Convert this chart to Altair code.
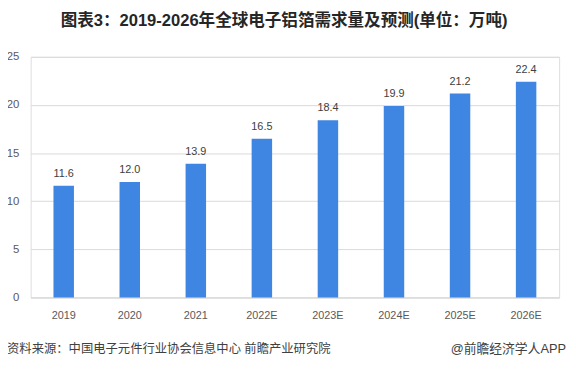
import altair as alt
import pandas as pd

years = ["2019", "2020", "2021", "2022E", "2023E", "2024E", "2025E", "2026E"]
values = [11.6, 12.0, 13.9, 16.5, 18.4, 19.9, 21.2, 22.4]
y_ticks = [0, 5, 10, 15, 20, 25]
title_text = "图表3：2019-2026年全球电子铝箔需求量及预测(单位：万吨)"
source_text = "资料来源：中国电子元件行业协会信息中心 前瞻产业研究院"
brand_text = "@前瞻经济学人APP"

df = pd.DataFrame({"year": years, "value": values})
df["label"] = [f"{v:.1f}" for v in values]

FONT = "Liberation Sans, Noto Sans CJK SC, sans-serif"
W, H = 536, 244

x = alt.X("year:N", sort=years, title=None,
          scale=alt.Scale(paddingInner=0.69, paddingOuter=0.345),
          axis=alt.Axis(labelAngle=0, labelColor="#595959", labelFontSize=11,
                        labelFont=FONT, labelPadding=12, ticks=False,
                        domainColor="#d9d9d9", grid=False))
y = alt.Y("value:Q", title=None,
          scale=alt.Scale(domain=[0, 25], nice=False),
          axis=alt.Axis(values=y_ticks, labelColor="#595959", labelFontSize=11.5,
                        labelFont=FONT, labelPadding=12, ticks=False, domain=False,
                        gridColor="#d9d9d9"))

bars = alt.Chart(df).mark_bar(color="#3f86e2").encode(x=x, y=y)
labels = alt.Chart(df).mark_text(dy=-12, fontSize=11, color="#404040", font=FONT).encode(
    x=alt.X("year:N", sort=years), y="value:Q", text="label:N")

src = alt.Chart(pd.DataFrame({"t": [source_text]})).mark_text(
    align="left", baseline="middle", fontSize=12.5, color="#404040", font=FONT
).encode(x=alt.value(-24), y=alt.value(H + 52), text="t:N")
brand = alt.Chart(pd.DataFrame({"t": [brand_text]})).mark_text(
    align="right", baseline="middle", fontSize=13, color="#404040", font=FONT
).encode(x=alt.value(W + 7), y=alt.value(H + 52), text="t:N")

chart = alt.layer(bars, labels, src, brand).properties(
    width=W, height=H,
    title=alt.TitleParams(title_text, font="Liberation Sans, Noto Sans CJK SC", fontSize=16.8,
                          fontWeight="bold", color="#262626", anchor="middle",
                          offset=21, dx=-11),
    padding={"left": 23, "top": 47, "right": 9, "bottom": 65},
    autosize=alt.AutoSizeParams(type="none"),
).configure_view(stroke=None).configure(background="white")

chart.save("out.html", embed_options={"renderer": "svg", "actions": False})
